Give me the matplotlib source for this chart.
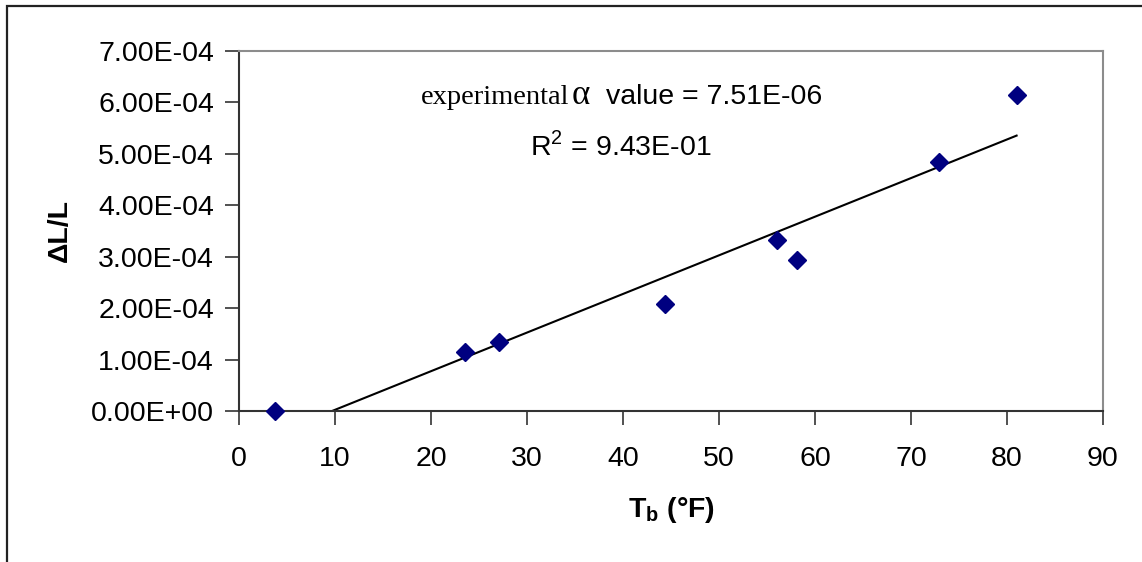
import matplotlib
matplotlib.use("Agg")
import matplotlib.pyplot as plt
from matplotlib.patches import Rectangle

# 实验数据
temp_f = [3.7, 23.5, 27.1, 44.4, 56.0, 58.1, 72.9, 81.0]
strain = [0.0, 1.15e-4, 1.34e-4, 2.08e-4, 3.33e-4, 2.94e-4, 4.84e-4, 6.15e-4]

# 趋势线 (Excel 线性拟合)
slope = 7.51e-6
intercept = -7.28e-5
fit_x = [9.7, 81.0]

x_ticks = [0, 10, 20, 30, 40, 50, 60, 70, 80, 90]
y_ticks = [0, 1e-4, 2e-4, 3e-4, 4e-4, 5e-4, 6e-4, 7e-4]
y_tick_labels = ["0.00E+00", "1.00E-04", "2.00E-04", "3.00E-04",
                 "4.00E-04", "5.00E-04", "6.00E-04", "7.00E-04"]

plt.rcParams['font.family'] = ['Liberation Sans', 'DejaVu Sans']
plt.rcParams['mathtext.fontset'] = 'custom'
plt.rcParams['mathtext.rm'] = 'Liberation Sans'
plt.rcParams['mathtext.bf'] = 'Liberation Sans:bold'
fs = 20.5

fig = plt.figure(figsize=(11.42, 5.62), dpi=100)
ax = fig.add_axes([239 / 1142, 1 - 411 / 562, 864 / 1142, 360 / 562])

# 外框
fig.patches.append(Rectangle((7 / 1142, -0.1), 1.2, 1.1 - 6 / 562,
                             transform=fig.transFigure, fill=False,
                             edgecolor='#222222', linewidth=1.6))

ax.plot(fit_x, [slope * x + intercept for x in fit_x], color='black', lw=1.5, zorder=2)
ax.plot(temp_f, strain, linestyle='none', marker='D', markersize=9,
        color='#000080', zorder=3, clip_on=False)

ax.set_xlim(0, 90)
ax.set_ylim(0, 7e-4)
ax.set_xticks(x_ticks)
ax.set_yticks(y_ticks)
ax.set_xticklabels([str(v) for v in x_ticks], fontsize=fs)
ax.set_yticklabels(y_tick_labels, fontsize=fs)
ax.tick_params(direction='out', length=10, width=1.2, color='#333333')
ax.tick_params(axis='x', pad=15)
ax.tick_params(axis='y', pad=8)

for side in ['left', 'bottom']:
    ax.spines[side].set_color('#333333')
    ax.spines[side].set_linewidth(1.5)
for side in ['top', 'right']:
    ax.spines[side].set_color('#8c8c8c')
    ax.spines[side].set_linewidth(1.5)

ax.set_xlabel(r"$\mathbf{T_b}$ (°F)", fontsize=fs, fontweight='bold', labelpad=17)
ax.set_ylabel("ΔL/L", fontsize=fs, fontweight='bold', labelpad=13)

# 注释文字
ax.text(18.9, 5.97e-4, "experimental", family='Liberation Serif', fontsize=fs, va='baseline')
ax.text(34.6, 5.97e-4, "α", family='Liberation Serif', fontsize=25, va='baseline')
ax.text(38.2, 5.97e-4, "value = 7.51E-06", fontsize=fs, va='baseline')
ax.text(30.3, 4.98e-4, r"R$^2$ = 9.43E-01", fontsize=fs, va='baseline')

fig.savefig("out.png", dpi=100)
